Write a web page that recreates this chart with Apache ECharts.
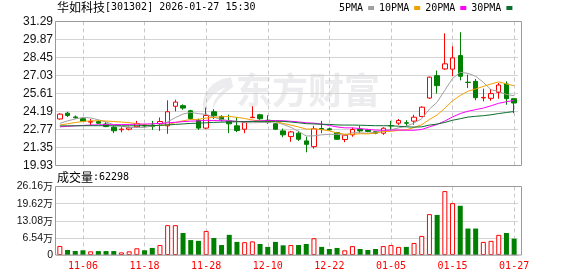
<!DOCTYPE html>
<html><head><meta charset="utf-8">
<script src="https://cdn.jsdelivr.net/npm/echarts@6/dist/echarts.min.js"></script>
<style>html,body{margin:0;padding:0;background:#fff}#c{width:578px;height:276px}</style>
</head><body><div id="c"></div>
<script>
const stockName = '华如科技';
const stockInfo = '[301302] 2026-01-27 15:30';
const dates = ['11-03','11-04','11-05','11-06','11-07','11-10','11-11','11-12','11-13','11-14','11-17','11-18','11-19','11-20','11-21','11-24','11-25','11-26','11-27','11-28',
'12-01','12-02','12-03','12-04','12-05','12-08','12-09','12-10','12-11','12-12','12-15','12-16','12-17','12-18','12-19','12-22','12-23','12-24','12-25','12-26','12-29','12-30','12-31',
'01-05','01-06','01-07','01-08','01-09','01-12','01-13','01-14','01-15','01-16','01-19','01-20','01-21','01-22','01-23','01-26','01-27'];
const labelDates = ['11-06','11-18','11-28','12-10','12-22','01-05','01-15','01-27'];
// [open, close, low, high]
const candles = [
[23.60,23.98,23.55,24.05],[24.06,23.88,23.75,24.17],[23.76,23.70,23.62,23.88],[23.62,23.43,23.38,23.67],[23.35,23.40,23.10,23.60],
[23.40,23.27,23.22,23.48],[23.20,23.00,22.95,23.35],[22.95,22.67,22.48,23.06],[22.75,22.80,22.55,22.95],[22.80,22.92,22.70,23.00],
[22.98,23.24,22.92,23.45],[23.12,23.05,22.95,23.18],[23.12,23.00,22.74,23.45],[23.24,23.40,22.66,23.72],[23.06,24.17,22.43,25.07],
[24.60,24.93,24.20,25.12],[24.65,24.46,24.33,24.75],[24.25,23.64,23.53,24.33],[23.50,22.88,22.74,23.62],[22.88,23.88,22.80,24.50],
[24.17,23.85,23.60,24.38],[23.80,23.53,23.40,23.90],[23.48,23.22,22.48,23.95],[23.06,22.69,22.56,23.72],[22.79,23.32,22.48,23.40],
[23.70,23.74,23.68,24.60],[23.93,23.62,23.53,24.00],[23.50,23.35,23.22,23.90],[23.22,22.79,22.74,23.27],[22.66,22.35,22.16,22.84],
[22.21,22.58,21.80,22.66],[22.48,22.00,21.87,22.66],[21.87,21.60,20.97,22.21],[21.42,22.82,21.26,23.06],[22.85,22.77,22.48,23.45],
[22.82,22.75,22.68,22.90],[22.53,22.00,21.95,22.58],[21.98,22.32,21.77,22.37],[22.35,22.77,22.20,22.92],[22.80,22.66,22.48,23.06],
[22.74,22.62,22.55,22.82],[22.60,22.48,22.40,22.66],[22.48,22.87,22.35,22.95],[23.08,23.06,22.74,23.45],[23.27,23.48,23.12,23.60],
[23.30,23.27,23.06,23.50],[23.43,23.74,23.14,23.93],[23.80,24.53,23.74,24.60],[25.25,26.90,25.18,26.94],[27.02,26.23,25.60,27.42],
[27.55,27.95,27.47,30.35],[27.53,28.42,26.97,29.34],[28.60,26.97,26.65,30.45],[26.50,26.48,26.04,27.10],[26.57,25.28,25.07,26.76],
[25.26,25.30,24.99,25.99],[25.23,25.60,25.04,25.97],[25.70,26.28,25.20,26.44],[26.36,25.20,24.72,26.57],[25.20,24.86,24.06,25.20]];
const ma5 = [23.25,23.45,23.60,23.72,23.68,23.54,23.36,23.15,23.03,22.93,22.93,22.94,23.04,23.12,23.37,23.71,23.99,24.12,24.02,23.96,
23.74,23.56,23.47,23.43,23.32,23.30,23.32,23.34,23.36,23.17,22.94,22.62,22.26,22.27,22.35,22.39,22.39,22.33,22.52,22.51,
22.47,22.57,22.68,22.74,22.90,23.03,23.28,23.62,24.38,24.93,25.87,26.80,27.28,27.20,26.97,26.49,25.91,25.77,25.53,25.44];
const ma10 = [23.12,23.22,23.32,23.40,23.45,23.46,23.44,23.40,23.36,23.31,23.23,23.15,23.08,23.08,23.15,23.32,23.46,23.56,23.57,23.67,
23.73,23.77,23.80,23.73,23.64,23.52,23.44,23.41,23.40,23.25,23.12,22.97,22.80,22.82,22.76,22.66,22.50,22.40,22.40,22.43,
22.43,22.48,22.61,22.63,22.70,22.75,22.93,23.15,23.56,23.92,24.45,25.04,25.45,25.79,25.97,26.17,26.36,26.53,26.36,26.22];
const ma20 = [22.98,23.02,23.06,23.09,23.12,23.14,23.15,23.15,23.16,23.17,23.19,23.20,23.22,23.25,23.29,23.34,23.39,23.43,23.45,23.49,
23.48,23.46,23.44,23.40,23.40,23.42,23.45,23.48,23.48,23.46,23.42,23.37,23.30,23.27,23.20,23.09,22.97,22.90,22.90,22.84,
22.78,22.72,22.71,22.72,22.73,22.71,22.71,22.77,22.98,23.17,23.44,23.76,24.03,24.21,24.34,24.46,24.64,24.84,24.96,25.07];
const ma30 = [23.05,23.06,23.06,23.07,23.07,23.07,23.07,23.06,23.06,23.06,23.07,23.07,23.08,23.10,23.13,23.17,23.21,23.25,23.27,23.30,
23.33,23.35,23.37,23.38,23.39,23.40,23.41,23.42,23.42,23.41,23.36,23.30,23.23,23.21,23.18,23.17,23.13,23.12,23.12,23.11,
23.09,23.07,23.07,23.06,23.03,22.98,22.96,22.98,23.12,23.20,23.33,23.50,23.62,23.75,23.81,23.86,23.93,24.03,24.11,24.19];
const volumes = [34500,19000,15300,18000,14000,15000,15000,15000,10000,14000,25600,18000,27000,38000,114000,114000,84000,57000,54000,92000,
65000,38000,77000,50000,49000,52000,42000,31000,50000,37000,38000,38000,42000,64000,31000,23000,27000,18000,34000,23000,
19000,23000,34000,38000,31000,31000,46000,73000,156000,153000,244000,198000,188000,101000,101000,50000,54000,77000,84000,62298];
const volUp = [1,0,0,0,1,0,0,0,1,1,1,0,0,1,1,1,0,0,0,1,0,0,0,0,1,1,0,0,0,0,1,0,0,1,0,0,0,1,1,0,0,0,1,1,1,0,1,1,1,0,1,1,0,0,0,1,1,1,0,0];
const priceTicks = [19.93,21.35,22.77,24.19,25.61,27.03,28.45,29.87,31.29];
const volTicks = [0,65400,130800,196200,261600];
const maNames = ['5PMA','10PMA','20PMA','30PMA'];

const RED = '#ff0000', GREEN = '#008000';
const maColors = ['#a0a0a0','#f0a000','#ff00ff','#0a6e2e'];
const mono = 'DejaVu Sans Mono', cjk = 'Noto Sans CJK SC';
const G0 = {left:56, top:21.5, width:462, height:144};
const G1 = {left:56, top:186.5, width:462, height:68.5};

const chart = echarts.init(document.getElementById('c'), null, {renderer:'canvas'});
const labelIdx = new Set(labelDates.map(d => dates.indexOf(d)));
const xAxisCommon = {
  type:'category', data:dates, boundaryGap:true,
  axisLine:{show:false}, axisTick:{show:false},
  splitLine:{show:true, alignWithLabel:true, interval:(i)=>labelIdx.has(i), lineStyle:{color:'#c8c8c8', type:[4,3], width:1}}
};
const ySplit = {show:true, lineStyle:{color:'#d4d4d4', width:1}};
const wm = '#ececee';

chart.setOption({
  animation:false,
  backgroundColor:'#fff',
  title:[
    {left:57, top:1, padding:0, text:`{a|${stockName}}{b|${stockInfo}}`,
     textStyle:{fontSize:12, fontWeight:'normal', rich:{a:{fontFamily:cjk,fontSize:12,color:'#000'}, b:{fontFamily:mono,fontSize:10,color:'#000'}}}},
    {left:57, top:171, padding:0, text:`{a|成交量}{b|:${volumes[volumes.length-1]}}`,
     textStyle:{fontSize:12, fontWeight:'normal', rich:{a:{fontFamily:cjk,fontSize:12,color:'#000'}, b:{fontFamily:mono,fontSize:10,color:'#000'}}}}
  ],
  legend:{left:339, top:3, padding:0, itemGap:5, itemWidth:6, itemHeight:4, icon:'rect', align:'right', selectedMode:false,
    data:maNames, textStyle:{fontFamily:mono, fontSize:10, color:'#000', padding:0}},
  graphic:[
    {type:'polygon', z:-10, silent:true,
     shape:{points:[[231,77],[222,79],[213,84],[206,92],[203,101],[203,112],[207,103],[213,95],[220,90],[226,87],[219,94],[214,101],[212,110],[218,100],[225,93],[233,87]]},
     style:{fill:wm}},
    {type:'text', left:236, top:72, z:-10, silent:true, style:{text:'东方财富', font:'bold 36px "Noto Sans CJK SC"', fill:wm}},
    {type:'rect', z:100, silent:true, shape:{x:55.5, y:21.5, width:466, height:144}, style:{fill:'none', stroke:'#999', lineWidth:1}},
    {type:'rect', z:100, silent:true, shape:{x:55.5, y:186.5, width:466, height:68.5}, style:{fill:'none', stroke:'#999', lineWidth:1}}
  ],
  grid:[G0, G1],
  xAxis:[
    Object.assign({gridIndex:0, axisLabel:{show:false}}, xAxisCommon),
    Object.assign({gridIndex:1, axisLabel:{show:true, interval:(i)=>labelIdx.has(i), color:RED, fontFamily:mono, fontSize:10, margin:6}}, xAxisCommon)
  ],
  yAxis:[
    {gridIndex:0, type:'value', min:priceTicks[0], max:priceTicks[priceTicks.length-1], interval:+(priceTicks[1]-priceTicks[0]).toFixed(2),
     axisLine:{show:false}, axisTick:{show:false}, splitLine:ySplit,
     axisLabel:{color:'#111', fontFamily:'Liberation Sans', fontSize:12, margin:3, formatter:v=>v.toFixed(2)}},
    {gridIndex:1, type:'value', min:volTicks[0], max:volTicks[volTicks.length-1], interval:volTicks[1]-volTicks[0],
     axisLine:{show:false}, axisTick:{show:false}, splitLine:ySplit,
     axisLabel:{color:'#111', fontFamily:'Liberation Sans', fontSize:11, margin:3,
       formatter:v=> v===0 ? '{n|0}' : `{n|${(v/10000).toFixed(2)}}{w|万}`,
       rich:{n:{fontFamily:'Liberation Sans', fontSize:10.5, color:'#111'}, w:{fontFamily:cjk, fontSize:10, color:'#111'}}}}
  ],
  series:[
    {type:'candlestick', name:'K', xAxisIndex:0, yAxisIndex:0, data:candles, barWidth:5, z:2,
     itemStyle:{color:'#ffffff', color0:GREEN, borderColor:RED, borderColor0:GREEN, borderWidth:1}},
    ...maNames.map((n,k)=>({type:'line', name:n, xAxisIndex:0, yAxisIndex:0, data:[ma5,ma10,ma20,ma30][k], symbol:'none', z:3,
      lineStyle:{color:maColors[k], width:1}, itemStyle:{color:maColors[k]}})),
    {type:'bar', name:'VOL', xAxisIndex:1, yAxisIndex:1, barWidth:5,
     data:volumes.map((v,i)=>({value:v, itemStyle: volUp[i] ? {color:'#ffffff', borderColor:RED, borderWidth:1} : {color:GREEN}}))}
  ]
});
</script></body></html>
